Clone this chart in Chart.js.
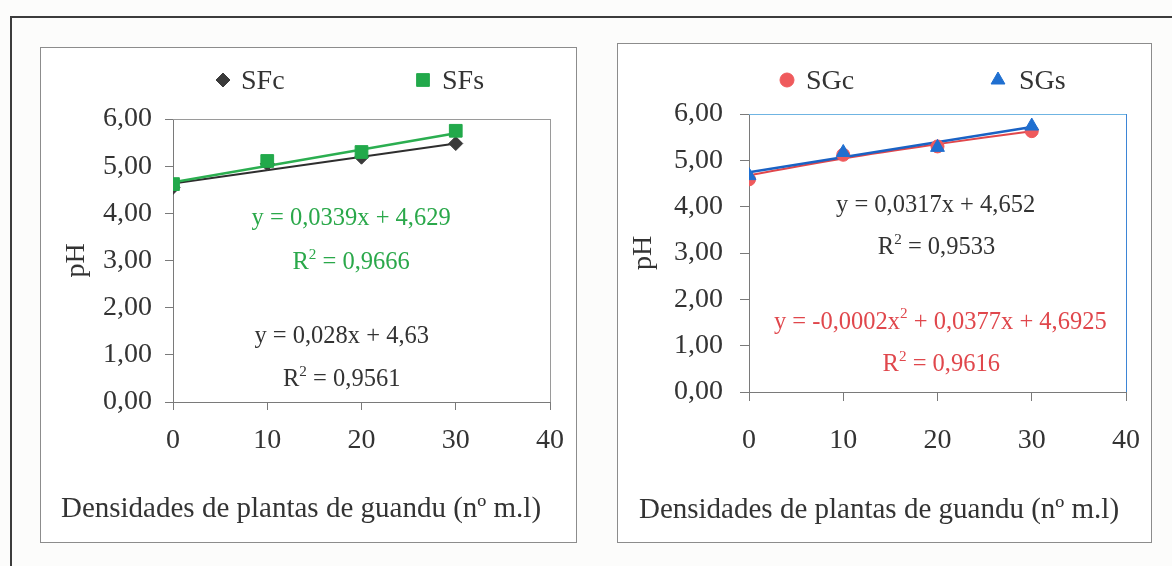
<!DOCTYPE html>
<html>
<head>
<meta charset="utf-8">
<script src="https://cdn.jsdelivr.net/npm/chart.js@4.4.1/dist/chart.umd.min.js"></script>
<style>
body{margin:0;background:#fcfcfb;width:1172px;height:566px;overflow:hidden;position:relative;}
.frame{position:absolute;left:10px;top:16px;width:1170px;height:560px;border-left:2px solid #3c3c3c;border-top:2px solid #3c3c3c;}
.box{position:absolute;box-sizing:border-box;border:1px solid #8c8c8c;background:#fff;}
canvas{position:absolute;}
</style>
</head>
<body>
<div class="frame"></div>
<div class="box" style="left:40px;top:47px;width:537px;height:496px;"></div>
<div class="box" style="left:617px;top:43px;width:535px;height:500px;"></div>
<canvas id="chartSF" width="537" height="496" style="left:40px;top:47px;"></canvas>
<canvas id="chartSG" width="535" height="500" style="left:617px;top:43px;"></canvas>
<script>
// values
const densities = [0, 10, 20, 30];
const sfcValues = [4.55, 5.05, 5.19, 5.48];
const sfsValues = [4.62, 5.11, 5.30, 5.75];
const sgcValues = [4.59, 5.12, 5.30, 5.63];
const sgsValues = [4.67, 5.17, 5.28, 5.74];

// trend lines as they appear in the picture
const trendX = [0, 30];
const sfcTrend = [4.63, 5.48];
const sfsTrend = [4.66, 5.70];
const sgsTrend = [4.74, 5.72];
const sgcTrendX = [0, 10, 20, 30];
const sgcTrend = [4.68, 5.04, 5.35, 5.63];

const xTicks = [0, 10, 20, 30, 40];
const yTicks = [0, 1, 2, 3, 4, 5, 6];
const xTitle = "Densidades de plantas de guandu (nº m.l)";

const FONT = '"Liberation Serif", "Times New Roman", serif';
const INK = "#333333";

function pts(xs, ys){
  return xs.map((x,i)=>({x:x, y:ys[i]}));
}

// text with ^ marking a superscript character
function drawRich(ctx, text, x, y, size, color){
  let parts = text.split("^");
  let segs = [{t:parts[0], sup:false}];
  for(let i=1;i<parts.length;i++){
    segs.push({t:parts[i].charAt(0), sup:true});
    segs.push({t:parts[i].slice(1), sup:false});
  }
  let total = 0;
  segs.forEach(s=>{
    ctx.font = (s.sup ? size*0.62 : size) + "px " + FONT;
    s.w = ctx.measureText(s.t).width;
    total += s.w;
  });
  let cx = x - total/2;
  ctx.fillStyle = color;
  ctx.textAlign = "left";
  ctx.textBaseline = "alphabetic";
  segs.forEach(s=>{
    ctx.font = (s.sup ? size*0.62 : size) + "px " + FONT;
    ctx.fillText(s.t, cx, s.sup ? y - size*0.42 : y);
    cx += s.w;
  });
}

const notesPlugin = {
  id:"notes",
  afterDraw(chart, args, opts){
    const ctx = chart.ctx;
    const xs = chart.scales.x, ys = chart.scales.y;
    const area = chart.chartArea;
    ctx.save();
    // top and right edge of the plot area
    ctx.lineWidth = 1;
    ctx.strokeStyle = opts.frameTop;
    ctx.beginPath();
    ctx.moveTo(area.left, area.top + 0.5);
    ctx.lineTo(area.right, area.top + 0.5);
    ctx.stroke();
    ctx.strokeStyle = opts.frameRight;
    ctx.beginPath();
    ctx.moveTo(area.right + 0.5, area.top);
    ctx.lineTo(area.right + 0.5, area.bottom);
    ctx.stroke();

    (opts.items || []).forEach(n=>{
      drawRich(ctx, n.text, xs.getPixelForValue(n.x), ys.getPixelForValue(n.y), n.size, n.color);
    });

    drawRich(ctx, xTitle, opts.xTitleX, opts.xTitleY, 29, INK);

    (opts.legend || []).forEach(l=>{
      const ds = chart.data.datasets[l.index];
      ctx.fillStyle = ds.backgroundColor;
      ctx.strokeStyle = ds.borderColor;
      Chart.helpers.drawPoint(ctx, {pointStyle:ds.pointStyle, radius:l.r, borderWidth:1, rotation:0}, l.mx, l.my);
      ctx.fillStyle = INK;
      ctx.font = "28px " + FONT;
      ctx.textAlign = "left";
      ctx.textBaseline = "alphabetic";
      ctx.fillText(ds.label, l.tx, l.ty);
    });
    ctx.restore();
  }
};

function makeScales(o){
  return {
    x:{
      type:"linear", min:0, max:40,
      afterBuildTicks:s=>{ s.ticks = xTicks.map(v=>({value:v})); },
      afterFit:s=>{ s.height = o.xH; s.paddingLeft = 0; s.paddingRight = 0; },
      ticks:{color:INK, font:{family:FONT, size:28}, padding:o.xPad, maxRotation:0},
      grid:{drawOnChartArea:false, drawTicks:true, tickLength:o.tl, color:"#7a7a7a"},
      border:{color:"#7a7a7a", width:1}
    },
    y:{
      type:"linear", min:0, max:6,
      afterBuildTicks:s=>{ s.ticks = yTicks.map(v=>({value:v})); },
      afterFit:s=>{ s.width = o.yW; s.paddingTop = 0; s.paddingBottom = 0; },
      ticks:{color:INK, font:{family:FONT, size:28}, padding:o.yPad,
        callback:v=>v.toFixed(2).replace(".", ",")},
      grid:{drawOnChartArea:false, drawTicks:true, tickLength:o.tl, color:"#7a7a7a"},
      border:{color:"#7a7a7a", width:1},
      title:{display:true, text:"pH", color:INK, font:{family:FONT, size:28}, padding:{top:o.titlePad, bottom:0}}
    }
  };
}

new Chart(document.getElementById("chartSF"),{
  type:"scatter",
  data:{
    datasets:[
      {label:"SFs", data:pts(densities, sfsValues), pointStyle:"rect", pointRadius:9,
        backgroundColor:"#22a94b", borderColor:"#22a94b", order:0},
      {label:"SFc", data:pts(densities, sfcValues), pointStyle:"rectRot", pointRadius:7,
        backgroundColor:"#3a3a3a", borderColor:"#3a3a3a", order:1},
      {label:"SFs trend", data:pts(trendX, sfsTrend), showLine:true, pointRadius:0,
        borderColor:"#2bae50", borderWidth:2.5, order:2},
      {label:"SFc trend", data:pts(trendX, sfcTrend), showLine:true, pointRadius:0,
        borderColor:"#2e2e2e", borderWidth:2, order:3}
    ]
  },
  options:{
    responsive:false,
    animation:false,
    layout:{padding:{top:72, right:27, bottom:0, left:0}},
    scales:makeScales({xH:141, yW:133, tl:8, xPad:14, yPad:13, titlePad:20}),
    plugins:{
      legend:{display:false},
      tooltip:{enabled:false},
      notes:{
        frameTop:"#9a9a9a", frameRight:"#9a9a9a",
        xTitleX:261, xTitleY:470,
        legend:[
          {index:1, r:7, mx:183, my:33, tx:201, ty:42},
          {index:0, r:9, mx:383, my:33, tx:402, ty:42}
        ],
        items:[
          {text:"y = 0,0339x + 4,629", x:18.9, y:3.75, size:24.5, color:"#2aa84a"},
          {text:"R^2 = 0,9666", x:18.9, y:2.82, size:24.5, color:"#2aa84a"},
          {text:"y = 0,028x + 4,63", x:17.9, y:1.26, size:24.5, color:INK},
          {text:"R^2 = 0,9561", x:17.9, y:0.34, size:24.5, color:INK}
        ]
      }
    }
  },
  plugins:[notesPlugin]
});

new Chart(document.getElementById("chartSG"),{
  type:"scatter",
  data:{
    datasets:[
      {label:"SGs", data:pts(densities, sgsValues), pointStyle:"triangle", pointRadius:8,
        backgroundColor:"#1f6fd0", borderColor:"#1f6fd0", order:0},
      {label:"SGc", data:pts(densities, sgcValues), pointStyle:"circle", pointRadius:6.5,
        backgroundColor:"#ef5a5c", borderColor:"#ef5a5c", order:1},
      {label:"SGs trend", data:pts(trendX, sgsTrend), showLine:true, pointRadius:0,
        borderColor:"#1a62c4", borderWidth:2.5, order:2},
      {label:"SGc trend", data:pts(sgcTrendX, sgcTrend), showLine:true, pointRadius:0,
        borderColor:"#e0464a", borderWidth:2, tension:0.4, order:3}
    ]
  },
  options:{
    responsive:false,
    animation:false,
    layout:{padding:{top:71, right:26, bottom:0, left:0}},
    scales:makeScales({xH:151, yW:132, tl:9, xPad:23, yPad:17, titlePad:10}),
    plugins:{
      legend:{display:false},
      tooltip:{enabled:false},
      notes:{
        frameTop:"#6fb4e2", frameRight:"#3d85d6",
        xTitleX:262, xTitleY:475,
        legend:[
          {index:1, r:7, mx:170, my:37, tx:189, ty:46},
          {index:0, r:8, mx:381, my:37, tx:402, ty:46}
        ],
        items:[
          {text:"y = 0,0317x + 4,652", x:19.8, y:3.89, size:24.5, color:INK},
          {text:"R^2 = 0,9533", x:19.9, y:2.97, size:24.5, color:INK},
          {text:"y = -0,0002x^2 + 0,0377x + 4,6925", x:20.3, y:1.37, size:24.5, color:"#e0474c"},
          {text:"R^2 = 0,9616", x:20.4, y:0.45, size:24.5, color:"#e0474c"}
        ]
      }
    }
  },
  plugins:[notesPlugin]
});
</script>
</body>
</html>
